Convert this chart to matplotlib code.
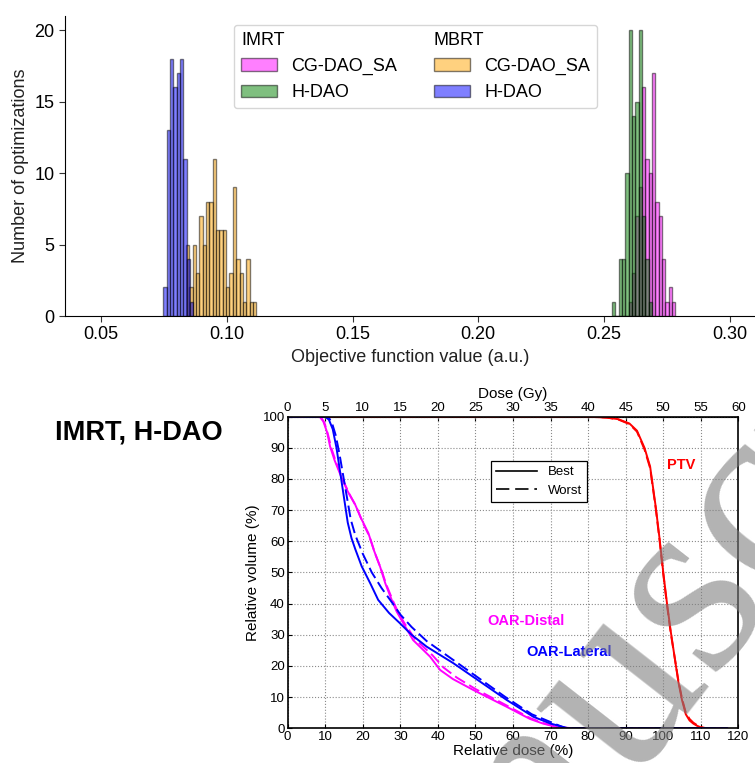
import matplotlib
matplotlib.use("Agg")
import matplotlib.pyplot as plt
from matplotlib.patches import Patch, Rectangle
from matplotlib.lines import Line2D
from matplotlib.ticker import FormatStrFormatter
import numpy as np

plt.rcParams['font.family'] = ['Liberation Sans', 'DejaVu Sans']

# ---- histogram data (counts per bin, bins of equal width) ----
bin_w = 0.00133
imrt_start = 0.2531
imrt_cg_counts = [0, 0, 0, 0, 0, 1, 3, 7, 9, 16, 11, 10, 17, 8, 7, 4, 1, 2, 1]
imrt_h_counts = [1, 0, 4, 4, 10, 20, 14, 15, 20, 7, 4, 1]
mbrt_h_start = 0.0748
mbrt_h_counts = [2, 13, 18, 16, 17, 18, 11, 4, 1]
mbrt_cg_start = 0.0838
mbrt_cg_counts = [5, 2, 5, 3, 7, 5, 8, 8, 11, 6, 6, 6, 2, 3, 9, 4, 3, 1, 4, 1, 1]

# ---- DVH data: relative dose (%) vs relative volume (%) ----
ptv_dose = [0, 80, 85, 88, 91, 93, 95, 96.5, 98, 99, 100, 101, 102, 103, 104, 105, 106, 107, 108, 109, 110, 111, 117]
ptv_best = [100, 100, 99.7, 99.2, 97.8, 95.5, 90, 84, 71, 61, 50, 40, 31, 23, 15, 9, 4.5, 2.5, 1.5, 0.8, 0.3, 0, 0]
ptv_dose_w = [0, 80, 85, 88, 91, 93, 95, 96.5, 98, 99, 100, 101, 102, 103, 104, 105, 106, 107, 108, 109, 110, 111.5, 117]
ptv_worst = [100, 100, 99.7, 99.1, 97.6, 95.2, 89.5, 83.5, 70.5, 60.5, 49.5, 39.5, 30.5, 23, 15.5, 9.5, 5, 3, 1.8, 1, 0.4, 0, 0]

lat_dose = [0, 10, 11, 12, 13, 14, 15, 16, 17, 18, 19.7, 22, 24.1, 27, 29.9, 33, 37, 44.1, 51.2, 58.3, 65.4, 70, 74.7, 117]
lat_best = [100, 100, 99, 96, 90, 82, 74, 66, 61, 57.5, 52, 46.5, 41.2, 37, 33.7, 30, 26.2, 20.9, 15, 9.1, 3.7, 1.5, 0, 0]
lat_dose_w = [0, 10.8, 11.8, 12.8, 13.8, 14.8, 15.8, 16.8, 18, 20, 22.4, 25, 28, 30, 33, 37, 44, 51, 58, 65, 70, 74, 117]
lat_worst = [100, 100, 98, 94, 88, 81, 74, 67, 62, 56, 50, 45, 40, 36.5, 32.5, 28, 22, 16, 10, 4.5, 2, 0, 0]

dis_dose = [0, 8.5, 9.5, 10.5, 11.3, 12.5, 14.4, 16, 17.9, 19.5, 21.5, 23, 24.6, 26, 27.7, 29, 30.8, 33.4, 37.9, 40.6, 44, 49.4, 58.3, 64.5, 68, 72, 75, 117]
dis_best = [100, 100, 98.5, 95, 90.4, 86, 80.3, 76, 72, 67.5, 62.6, 57, 51.9, 46.5, 41.2, 37.5, 33.7, 28.3, 23, 18.7, 15.8, 12.3, 6.9, 3, 1.5, 0.3, 0, 0]
dis_dose_w = [0, 8.8, 9.8, 10.8, 11.6, 13, 14.8, 16.5, 18.3, 20, 21.8, 23.3, 24.9, 26.3, 28, 29.5, 31.2, 34, 38.5, 41.5, 45, 50, 58.5, 64.5, 68, 72, 76, 117]
dis_worst = [100, 100, 98, 94, 90, 85, 79.5, 75, 71, 66, 61.5, 56, 51, 46, 41, 37, 33.5, 28.5, 23.5, 19.5, 16.3, 12.6, 7.2, 3.3, 1.7, 0.4, 0, 0]

fig = plt.figure(figsize=(7.55, 7.63), dpi=100)

# ================= top panel =================
ax1 = fig.add_axes([0.0861, 0.5858, 0.9139, 0.3936])

def bars(ax, start, counts, color):
    x = start + bin_w * np.arange(len(counts))
    ax.bar(x, counts, width=bin_w, align='edge', color=color, alpha=0.5,
           edgecolor='black', linewidth=1.0)

bars(ax1, imrt_start, imrt_cg_counts, 'magenta')
bars(ax1, imrt_start, imrt_h_counts, 'green')
bars(ax1, mbrt_cg_start, mbrt_cg_counts, 'orange')
bars(ax1, mbrt_h_start, mbrt_h_counts, 'blue')

ax1.set_xlim(0.0357, 0.31)
ax1.set_ylim(0, 21)
ax1.set_xticks([0.05, 0.10, 0.15, 0.20, 0.25, 0.30])
ax1.set_yticks([0, 5, 10, 15, 20])
ax1.xaxis.set_major_formatter(FormatStrFormatter('%.2f'))
ax1.spines['top'].set_visible(False)
ax1.spines['right'].set_visible(False)
ax1.tick_params(labelsize=13, length=4, color='#333333')
ax1.set_xlabel('Objective function value (a.u.)', fontsize=13, color='#222222')
ax1.set_ylabel('Number of optimizations', fontsize=13, color='#222222')

blank = Rectangle((0, 0), 1, 1, visible=False)
handles = [blank,
           Patch(facecolor='magenta', alpha=0.5, edgecolor='black'),
           Patch(facecolor='green', alpha=0.5, edgecolor='black'),
           blank,
           Patch(facecolor='orange', alpha=0.5, edgecolor='black'),
           Patch(facecolor='blue', alpha=0.5, edgecolor='black')]
labels = ['IMRT', 'CG-DAO_SA', 'H-DAO', 'MBRT', 'CG-DAO_SA', 'H-DAO']
leg = ax1.legend(handles, labels, ncol=2, loc='upper center',
                 bbox_to_anchor=(0.508, 1.0), fontsize=13, borderaxespad=0.5)
# column titles start where the patches start
for col in leg._legend_handle_box.get_children():
    row = col.get_children()[0]
    row.get_children()[0].width = 0
    row.sep = 0

# ================= bottom panel (DVH) =================
dash = (6, 2.5)
ax2 = fig.add_axes([0.381, 0.0455, 0.597, 0.4084])
ax2.plot(ptv_dose, ptv_best, color='red', lw=1.4)
ax2.plot(ptv_dose_w, ptv_worst, color='red', lw=1.4, ls='--', dashes=dash)
ax2.plot(dis_dose, dis_best, color='magenta', lw=1.4)
ax2.plot(dis_dose_w, dis_worst, color='magenta', lw=1.4, ls='--', dashes=dash)
ax2.plot(lat_dose, lat_best, color='blue', lw=1.4)
ax2.plot(lat_dose_w, lat_worst, color='blue', lw=1.4, ls='--', dashes=dash)

ax2.set_xlim(0, 120)
ax2.set_ylim(0, 100)
ax2.set_xticks(range(0, 121, 10))
ax2.set_yticks(range(0, 101, 10))
ax2.grid(True, ls=':', color='#8a8a8a', lw=0.8)
ax2.tick_params(direction='in', length=3, labelsize=9.5, pad=2)
for s in ax2.spines.values():
    s.set_linewidth(1.2)
ax2.set_xlabel('Relative dose (%)', fontsize=11, labelpad=1)
ax2.set_ylabel('Relative volume (%)', fontsize=11, labelpad=2)

sec = ax2.secondary_xaxis('top', functions=(lambda d: d * 0.5, lambda g: g * 2.0))
sec.set_xticks(range(0, 61, 5))
sec.tick_params(direction='in', length=3, labelsize=9.5, pad=2)
sec.set_xlabel('Dose (Gy)', fontsize=11, labelpad=3)

lh = [Line2D([], [], color='black', lw=1.2),
      Line2D([], [], color='black', lw=1.2, ls='--', dashes=(8, 3.5))]
leg2 = ax2.legend(lh, ['Best', 'Worst'], loc='upper left', bbox_to_anchor=(0.4505, 0.8588),
                  borderaxespad=0, fancybox=False, edgecolor='black', framealpha=1,
                  fontsize=9.5, handlelength=3.1)
leg2.get_frame().set_linewidth(0.9)

ax2.text(104.9, 84.5, 'PTV', color='red', fontsize=10.5, weight='bold', ha='center', va='center')
ax2.text(63.5, 34.4, 'OAR-Distal', color='magenta', fontsize=10.5, weight='bold', ha='center', va='center')
ax2.text(74.9, 24.5, 'OAR-Lateral', color='blue', fontsize=10.5, weight='bold', ha='center', va='center')

fig.text(0.0728, 0.4338, 'IMRT, H-DAO', fontsize=19.5, weight='bold', ha='left', va='center')

# watermark of the source page
fig.text(0.862, 0.150, 'Manuscript', fontsize=190, family=['Liberation Serif', 'DejaVu Serif'],
         color='#808080', alpha=0.6, rotation=52, rotation_mode='anchor',
         ha='center', va='center')

fig.savefig('out.png', dpi=100, facecolor='white')
